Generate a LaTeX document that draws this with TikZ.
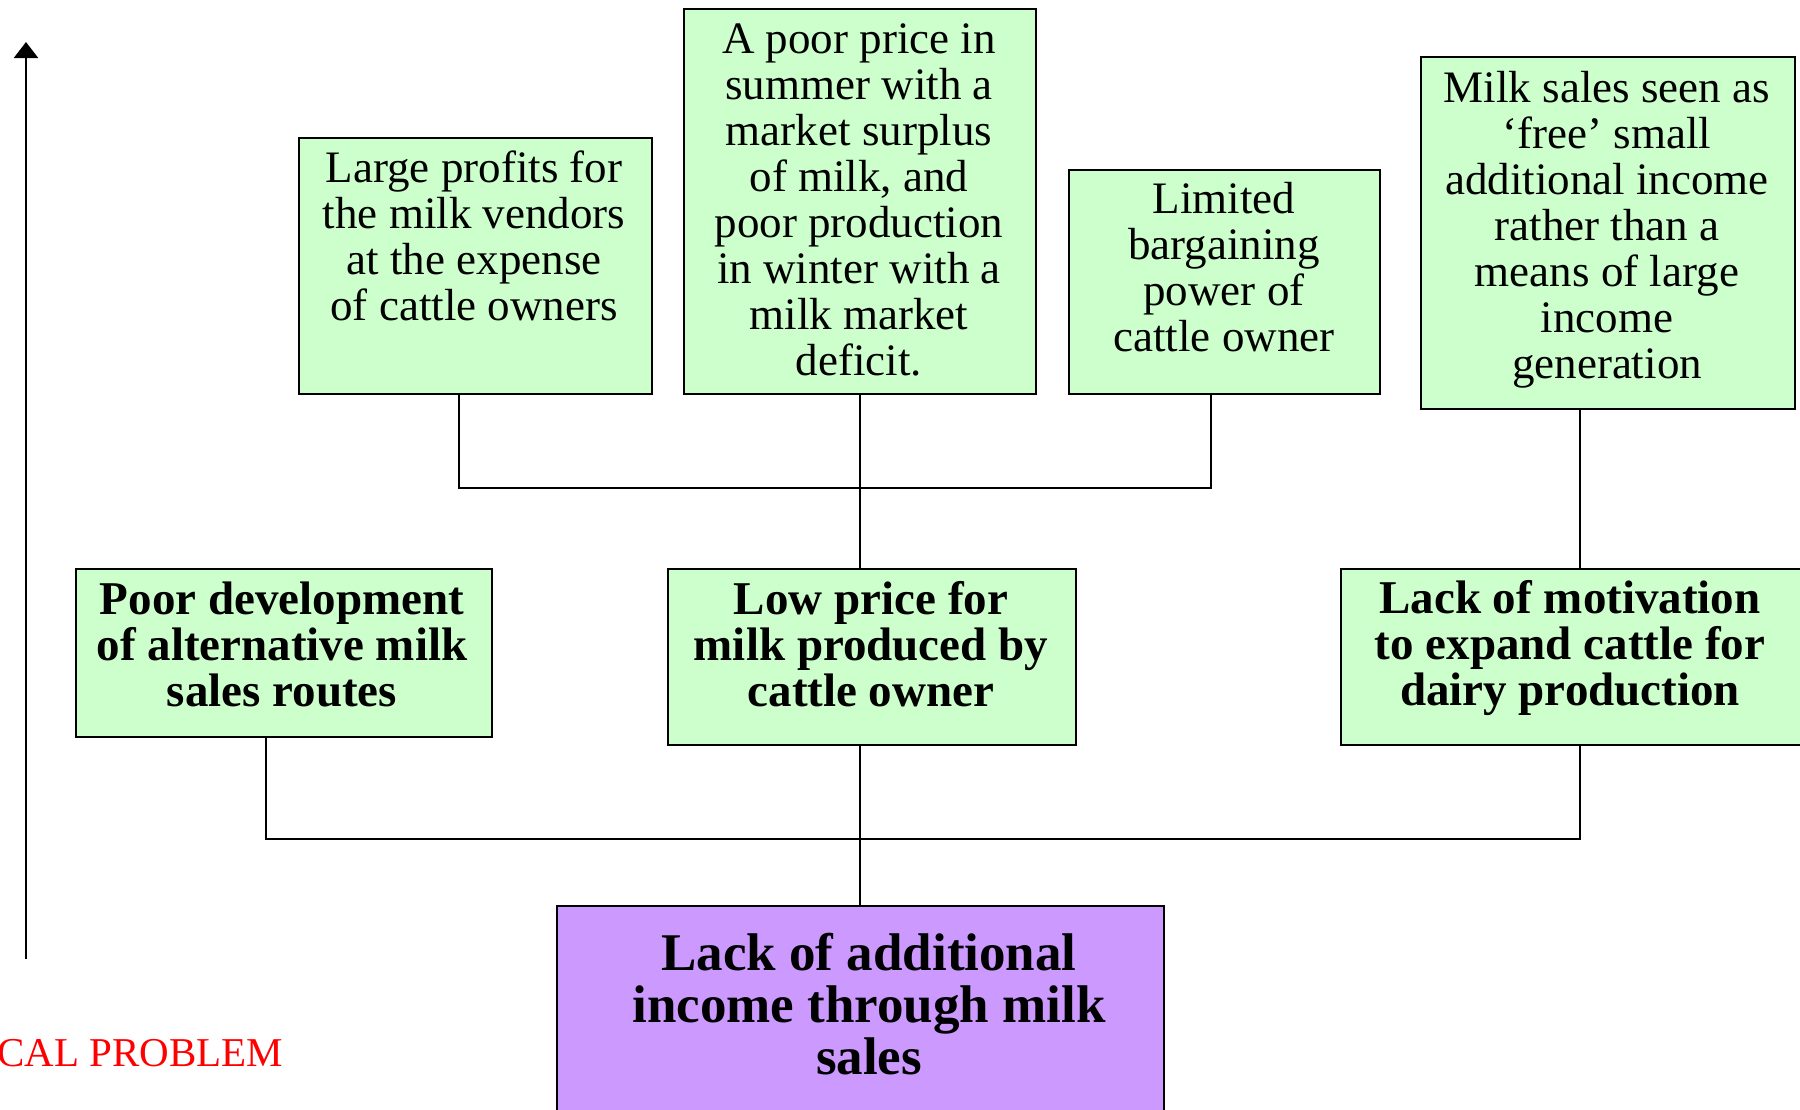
\documentclass[tikz,border=0pt]{standalone}
\usepackage{fontspec}
\setmainfont{Liberation Serif}
\usetikzlibrary{arrows.meta}
\definecolor{boxgreen}{HTML}{CCFFCC}
\definecolor{boxpurple}{HTML}{CC99FF}
\begin{document}
\begin{tikzpicture}[x=0.5pt,y=-0.5pt,
  gbox/.style={draw=black, line width=1.2pt, fill=boxgreen, anchor=north west, inner sep=0pt},
  pbox/.style={draw=black, line width=1.2pt, fill=boxpurple, anchor=north west, inner sep=0pt},
  plaintxt/.style={align=center, inner sep=0pt, font=\fontsize{22.5}{23}\selectfont},
  boldtxt/.style={align=center, inner sep=0pt, font=\fontsize{23.5}{23}\selectfont\bfseries},
  bigtxt/.style={align=center, inner sep=0pt, font=\fontsize{26.5}{26}\selectfont\bfseries},
  link/.style={draw=black, line width=1pt}]
\useasboundingbox (0,0) rectangle (1800,1109);
\fill[white] (0,0) rectangle (1800,1109);
% boxes
\node[gbox, minimum width=176.5pt, minimum height=128pt] (b1) at (298,137) {};
\node[gbox, minimum width=176pt, minimum height=192.5pt] (b2) at (683,8) {};
\node[gbox, minimum width=155.5pt, minimum height=112pt] (b3) at (1068,169) {};
\node[gbox, minimum width=187pt, minimum height=176pt] (b4) at (1420,56) {};
\node[gbox, minimum width=208pt, minimum height=84pt] (b5) at (75,568) {};
\node[gbox, minimum width=204pt, minimum height=88pt] (b6) at (667,568) {};
\node[gbox, minimum width=231pt, minimum height=88pt] (b7) at (1340,568) {};
\node[pbox, minimum width=303.5pt, minimum height=105pt] (b8) at (556,905) {};
% texts
\node[plaintxt] (t1) at (474,236) {Large profits for\\the milk vendors\\at the expense\\of cattle owners};
\node[plaintxt] (t2) at (859,200) {A poor price in\\summer with a\\market surplus\\of milk, and\\poor production\\in winter with a\\milk market\\deficit.};
\node[plaintxt] (t3) at (1224,267) {Limited\\bargaining\\power of\\cattle owner};
\node[plaintxt] (t4) at (1607,230) {Milk sales seen as\\‘free’ small\\additional income\\rather than a\\means of large\\income\\generation};
\node[boldtxt] (t5) at (282,644) {Poor development\\of alternative milk\\sales routes};
\node[boldtxt] (t6) at (871,644) {Low price for\\milk produced by\\cattle owner};
\node[boldtxt] (t7) at (1570,648) {Lack of motivation\\to expand cattle for\\dairy production};
\node[bigtxt] (t8) at (869,1004) {Lack of additional\\income through milk\\sales};
\node[anchor=west, inner sep=0pt, text=red, font=\fontsize{20.5}{23}\selectfont] (crit) at (-3,1053) {CAL PROBLEM};
% connectors
\coordinate (hl) at (459,488);
\coordinate (hr) at (1211,488);
\coordinate (ll) at (266,839);
\coordinate (lr) at (1580,839);
\draw[link] (b1.south -| hl) -- (hl) -- (hr) -- (b3.south -| hr);
\draw[link] (b2.south) -- (b6.north -| b2.south);
\draw[link] (b4.south -| lr) -- (b7.north -| lr);
\draw[link] (b5.south -| ll) -- (ll) -- (lr) -- (b7.south -| lr);
\draw[link] (b6.south -| b2.south) -- (b8.north -| b2.south);
% arrow
\coordinate (a0) at (26,959);
\coordinate (a1) at (26,42);
\draw[line width=1.2pt, -{Triangle[width=12pt,length=8pt]}] (a0) -- (a1);
\end{tikzpicture}
\end{document}
